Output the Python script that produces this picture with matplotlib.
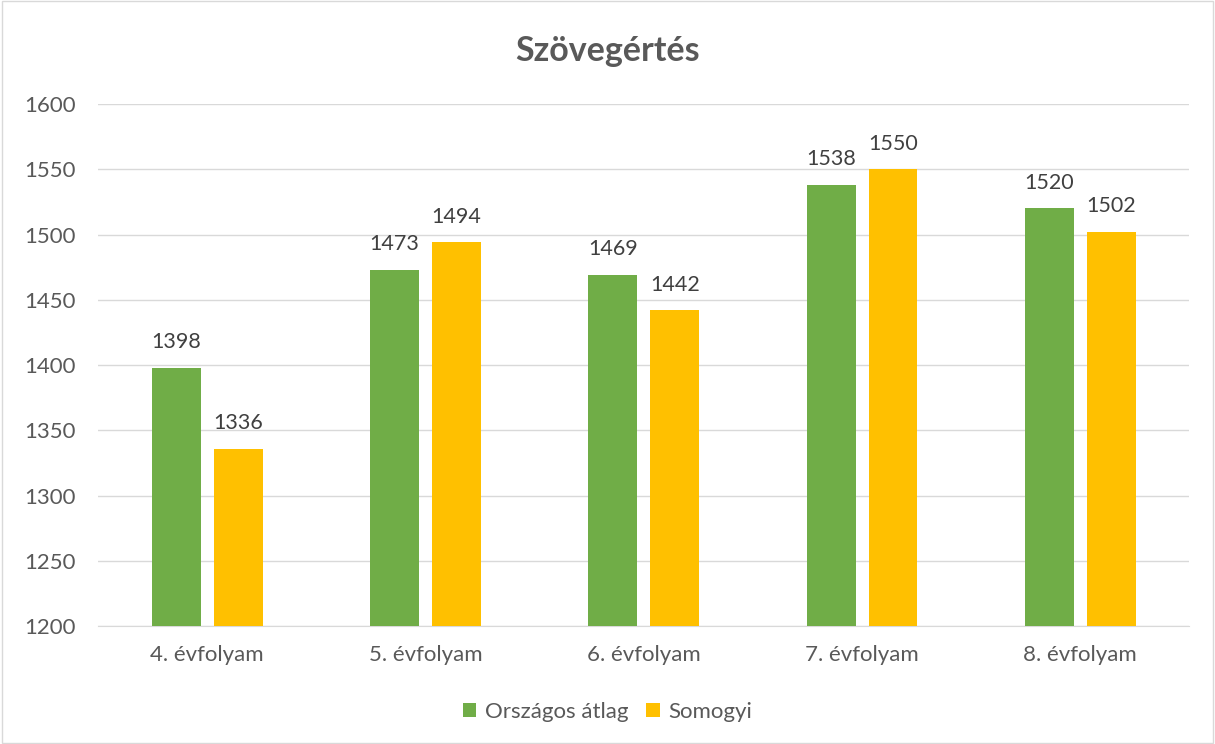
import matplotlib
matplotlib.use('Agg')
import numpy as np
from matplotlib import pyplot as plt
from matplotlib.patches import Rectangle

plt.rcParams['font.family'] = ['Lato', 'DejaVu Sans']

categories = ['4. évfolyam', '5. évfolyam', '6. évfolyam', '7. évfolyam', '8. évfolyam']
orszagos = [1398, 1473, 1469, 1538, 1520]
somogyi = [1336, 1494, 1442, 1550, 1502]
series_names = ['Országos átlag', 'Somogyi']

GREEN = '#70AD47'
YELLOW = '#FFC000'
TEXT = '#595959'
GRID = '#D9D9D9'

fig = plt.figure(figsize=(12.15, 7.44), dpi=100)
ax = fig.add_axes([0.0807, 0.1586, 0.8983, 0.7016])

x = np.arange(len(categories))
w = 0.224
off = 0.142
b1 = ax.bar(x - off, orszagos, w, color=GREEN, zorder=3, label=series_names[0])
b2 = ax.bar(x + off, somogyi, w, color=YELLOW, zorder=3, label=series_names[1])

for bars, vals in ((b1, orszagos), (b2, somogyi)):
    for r, v in zip(bars, vals):
        ax.text(r.get_x() + r.get_width() / 2, v + 12, str(v), ha='center', va='bottom',
                fontsize=15.5, color='#404040')

ax.set_xlim(-0.5, len(categories) - 0.5)
ax.set_ylim(1200, 1600)
ax.set_yticks(range(1200, 1601, 50))
ax.set_xticks(x)
ax.set_xticklabels(categories)
ax.tick_params(axis='both', length=0, labelsize=16, labelcolor=TEXT)
ax.tick_params(axis='y', pad=16)
ax.tick_params(axis='x', pad=14)
ax.yaxis.grid(True, color=GRID, linewidth=1, zorder=0)
for s in ['top', 'right', 'left']:
    ax.spines[s].set_visible(False)
ax.spines['bottom'].set_color(GRID)

fig.text(0.5, 0.932, 'Szövegértés', ha='center', va='center', fontsize=24.5,
         fontweight='bold', color=TEXT)

leg = fig.legend(handles=[b1, b2], loc='center', bbox_to_anchor=(0.5, 0.043), ncol=2,
                 frameon=False, fontsize=16, handlelength=0.6, handleheight=0.6,
                 columnspacing=0.8, handletextpad=0.4)
for t in leg.get_texts():
    t.set_color(TEXT)

# thin chart-area border
fig.add_artist(Rectangle((0.002, 0.002), 0.996, 0.996, transform=fig.transFigure,
                         fill=False, edgecolor=GRID, linewidth=1))

fig.savefig('out.png', dpi=100)
